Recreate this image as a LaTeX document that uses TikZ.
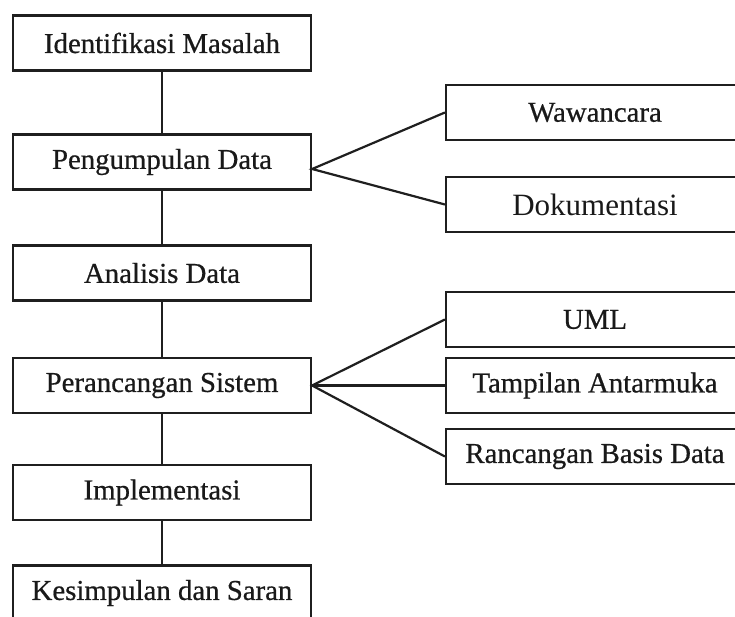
\documentclass[tikz,border=0pt]{standalone}
\usepackage{fontspec}
\setmainfont{Liberation Serif}
\newfontfamily\heavyserif{Liberation Serif}[FakeBold=0.6]
\begin{document}
\begin{tikzpicture}[x=1pt,y=-1pt,
  box/.style={draw=black!88,line width=2.2pt,fill=white,inner sep=0pt,
    minimum height=55pt,text=black!90,font=\heavyserif\fontsize{28.8}{34}\selectfont},
  leftbox/.style={box,minimum width=298pt},
  rightbox/.style={box,minimum width=298pt},
  link/.style={draw=black!88,line width=2.2pt}]
\useasboundingbox (0,0) rectangle (735,617);
\clip (0,0) rectangle (735,617);
\fill[white] (0,0) rectangle (735,617);

% main process column
\node[leftbox] (idm) at (162,43)    {Identifikasi Masalah};
\node[leftbox] (pgd) at (162,162)   {Pengumpulan Data};
\node[leftbox] (and) at (162,273)   {Analisis Data};
\node[leftbox] (prs) at (162,385.5) {Perancangan Sistem};
\node[leftbox] (imp) at (162,492.5) {Implementasi};
\node[leftbox] (kds) at (162,593)   {Kesimpulan dan Saran};

% sub-activities
\node[rightbox] (waw) at (595,112.5) {Wawancara};
\node[rightbox,font=\rmfamily\fontsize{31}{36}\selectfont] (dok) at (595,204.5) {Dokumentasi};
\node[rightbox] (uml) at (595,319.5) {UML};
\node[rightbox] (tam) at (595,385.5) {Tampilan Antarmuka};
\node[rightbox] (rbd) at (595,456.5) {Rancangan Basis Data};

% vertical flow
\draw[link] (idm) -- (pgd);
\draw[link] (pgd) -- (and);
\draw[link] (and) -- (prs);
\draw[link] (prs) -- (imp);
\draw[link] (imp) -- (kds);

% branches
\coordinate (pgdo) at ([yshift=-7pt]pgd.east);
\draw[link] (waw.west) -- (pgdo) -- (dok.west);
\draw[link] (uml.west) -- (prs.east) -- (rbd.west);
\draw[link] (prs.east) -- (tam.west);
\end{tikzpicture}
\end{document}
